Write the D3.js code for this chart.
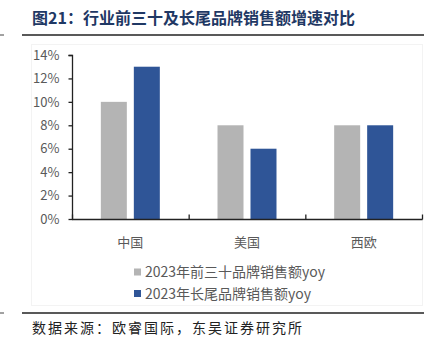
<!DOCTYPE html>
<html><head><meta charset="utf-8">
<script src="https://cdn.jsdelivr.net/npm/d3@7"></script>
<style>body{margin:0;background:#fff}svg{display:block}</style>
</head><body>
<script>
const categories = ["中国", "美国", "西欧"];
const seriesNames = ["2023年前三十品牌销售额yoy", "2023年长尾品牌销售额yoy"];
const top30 = [10, 8, 8];
const longTail = [13, 6, 8];
const yTicks = [0, 2, 4, 6, 8, 10, 12, 14];
const colors = ["#b4b4b4", "#2f5597"];

const W = 435, H = 355;
const svg = d3.select("body").append("svg").attr("width", W).attr("height", H);
const sans = "'Microsoft YaHei','Noto Sans CJK SC','Noto Sans',sans-serif";

// title
svg.append("text").attr("x", 32).attr("y", 24)
  .attr("font-family", "'Noto Sans CJK SC',serif").attr("font-weight", "bold")
  .attr("font-size", 16).attr("fill", "#1f3864")
  .text("图21：行业前三十及长尾品牌销售额增速对比");
svg.append("line").attr("x1", 22).attr("x2", 424).attr("y1", 35).attr("y2", 35)
  .attr("stroke", "#222").attr("stroke-width", 1.5);
svg.append("line").attr("x1", 0).attr("x2", 4).attr("y1", 35).attr("y2", 35)
  .attr("stroke", "#444").attr("stroke-width", 1);

// faint chart area border
svg.append("rect").attr("x", 31.5).attr("y", 44.5).attr("width", 391).attr("height", 261)
  .attr("fill", "none").attr("stroke", "#f3f3f3");

const x0 = d3.scaleBand().domain(categories).range([72, 422]);
const x1 = d3.scaleBand().domain([0, 1]).range([0, x0.bandwidth()]).paddingInner(0.212).paddingOuter(0.874);
const y = d3.scaleLinear().domain([0, 14]).range([219, 55]);

const data = categories.map((c, i) => ({c, vals: [top30[i], longTail[i]]}));
const g = svg.append("g");
data.forEach(d => {
  d.vals.forEach((v, j) => {
    g.append("rect").attr("x", x0(d.c) + x1(j)).attr("width", x1.bandwidth())
      .attr("y", y(v)).attr("height", y(0) - y(v)).attr("fill", colors[j]);
  });
});

// y axis
const yAxis = d3.axisLeft(y).tickValues(yTicks).tickFormat(d => d + "%").tickSize(4).tickPadding(9);
const ya = svg.append("g").attr("transform", "translate(72.5,0)").call(yAxis);
ya.select(".domain").attr("stroke", "#222").attr("stroke-width", 1.3).attr("d", "M-4,55.5H0V219.5");
ya.selectAll(".tick line").attr("stroke", "#222").attr("stroke-width", 1.3);
ya.selectAll("text").attr("font-family", sans).attr("font-size", 13).attr("fill", "#595959");

// x axis
const xa = svg.append("g").attr("transform", "translate(0,219.5)");
xa.append("line").attr("x1", 72).attr("x2", 422.5).attr("stroke", "#222").attr("stroke-width", 1.5);
const bounds = categories.map(c => x0(c)).concat([x0.range()[1]]);
xa.selectAll("line.tk").data(bounds).enter().append("line").attr("class", "tk")
  .attr("x1", d => d + 0.5).attr("x2", d => d + 0.5).attr("y1", 0).attr("y2", -5)
  .attr("stroke", "#222").attr("stroke-width", 1.3);
xa.selectAll("text").data(categories).enter().append("text")
  .attr("x", d => x0(d) + x0.bandwidth() / 2).attr("y", 27).attr("text-anchor", "middle")
  .attr("font-family", sans).attr("font-size", 13).attr("fill", "#595959").text(d => d);

// legend
seriesNames.forEach((n, i) => {
  const ly = 272 + i * 21.5;
  svg.append("rect").attr("x", 134).attr("y", ly - 3.5).attr("width", 7).attr("height", 7).attr("fill", colors[i]);
  svg.append("text").attr("x", 145).attr("y", ly + 5).attr("font-family", sans).attr("font-size", 14)
    .attr("fill", "#595959").text(n);
});

// source
svg.append("line").attr("x1", 22).attr("x2", 424).attr("y1", 313).attr("y2", 313)
  .attr("stroke", "#222").attr("stroke-width", 1.5);
svg.append("line").attr("x1", 0).attr("x2", 4).attr("y1", 313).attr("y2", 313)
  .attr("stroke", "#444").attr("stroke-width", 1);
svg.append("text").attr("x", 32).attr("y", 333).attr("font-family", "'Noto Sans CJK SC',serif")
  .attr("font-size", 14).attr("letter-spacing", 2).attr("fill", "#222").text("数据来源：欧睿国际，东吴证券研究所");
</script>
</body></html>
